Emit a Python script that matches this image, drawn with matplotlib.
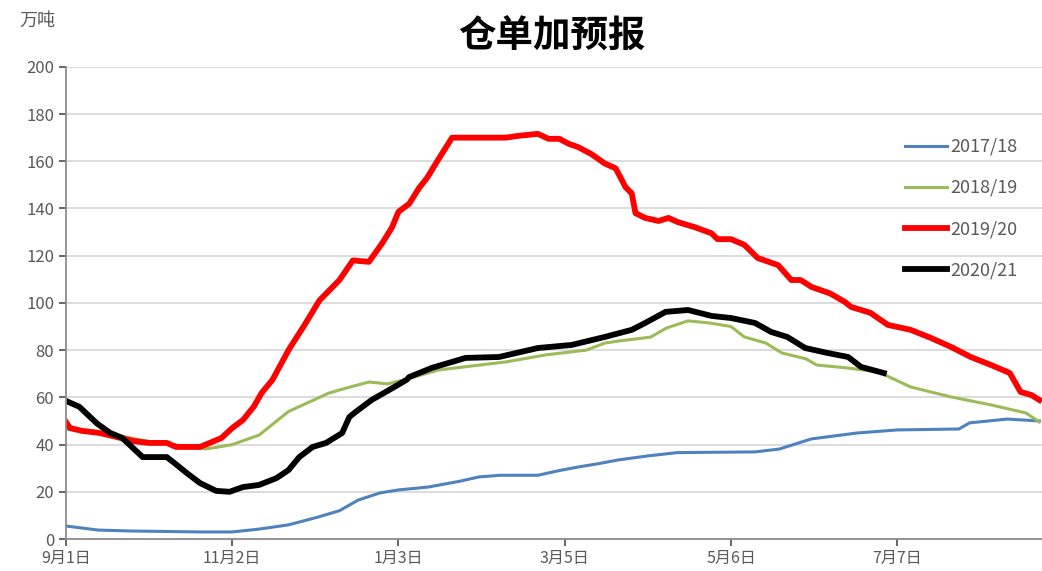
import matplotlib
matplotlib.use("Agg")
import matplotlib.pyplot as plt
import numpy as np

plt.rcParams['font.family'] = ['Noto Sans CJK SC', 'DejaVu Sans']

# days counted from 9月1日
tick_days = [0, 62, 124, 186, 248, 310]
tick_labels = ['9月1日', '11月2日', '1月3日', '3月5日', '5月6日', '7月7日']

d1718 = [0, 12, 24, 50, 62, 72, 83, 94, 102, 109, 117, 124, 135, 147, 154, 162, 176, 184,
         191, 199, 206, 217, 228, 257, 266, 278, 295, 310, 333, 337, 351, 363]
v1718 = [5.5, 3.8, 3.4, 3, 3, 4.2, 6, 9.3, 12, 16.5, 19.5, 20.8, 22, 24.5, 26.3, 27, 27, 29,
         30.5, 32, 33.5, 35.2, 36.6, 36.9, 38.1, 42.4, 44.9, 46.2, 46.6, 49.2, 50.8, 50]

d1819 = [0, 10, 20, 30, 40, 48, 52, 56, 62, 72, 83, 98, 106, 113, 120, 126, 139, 164, 179,
         194, 201, 207, 218, 224, 232, 240, 248, 253, 261, 267, 276, 280, 291, 303, 315, 330,
         345, 358, 363]
v1819 = [46.6, 45, 43.8, 41.5, 40, 38.8, 38.2, 38.8, 40, 44, 54, 61.8, 64.4, 66.5, 65.7, 67.4,
         71.6, 75, 78, 80, 83, 84, 85.5, 89.4, 92.4, 91.5, 90, 85.6, 83, 78.8, 76.3, 73.7,
         72.5, 70.8, 64.4, 60.2, 56.8, 53.4, 49.6]

d1920 = [0, 1.5, 6, 12.6, 19, 25, 31, 37.6, 41, 50, 53.6, 58, 62, 66, 70, 73, 77, 83, 89,
         94.5, 102, 107, 113, 118, 121.6, 124, 128, 131.7, 134.7, 139, 144, 164, 169, 176,
         180, 184, 187.5, 191, 196, 201, 205, 208.7, 211, 212.4, 216, 221, 224.7, 228, 234.7,
         240.7, 243, 248, 253, 258, 265.6, 270.5, 274, 278, 285, 290.5, 292.8, 300, 306.5,
         315, 322.5, 330, 337.4, 345, 352, 356, 360, 363]
v1920 = [49.6, 47, 45.8, 44.9, 43.2, 41.5, 40.7, 40.7, 39, 39, 40.7, 42.8, 47, 50.4, 56, 61.9,
         67.4, 80, 90.7, 101, 109.7, 118, 117.4, 125.4, 132, 138.6, 142, 148.7, 153, 161, 170,
         170, 170.8, 171.6, 169.5, 169.5, 167.4, 166, 163, 159, 157, 149, 146.4, 138, 136,
         134.7, 136, 134.3, 132, 129.5, 127, 127, 124.6, 119, 116, 109.7, 109.7, 106.8, 104,
         100.4, 98.3, 95.8, 90.7, 88.6, 85.2, 81.4, 77.1, 73.7, 70.3, 62.3, 61, 58.9]

d2021 = [0, 5, 11.5, 16.4, 21, 28.6, 37.6, 40, 45, 50, 56, 61, 66, 72, 78.5, 83, 87, 92, 97,
         103, 105.7, 108, 114, 120.5, 127, 128, 136.5, 149, 161.5, 176, 188.6, 201, 211, 216,
         223.6, 232, 240.7, 248, 257, 263, 269, 275.7, 284, 291.7, 296.5, 305]
v2021 = [58.5, 56, 49, 45, 42.8, 34.7, 34.7, 32.6, 28, 23.7, 20.4, 20, 22, 22.9, 25.8, 29.2,
         34.7, 39, 40.7, 44.9, 51.7, 53.8, 58.9, 63.1, 67.4, 68.6, 72.5, 76.7, 77.1, 80.9, 82.2,
         85.6, 88.6, 91.5, 96.2, 97, 94.5, 93.6, 91.5, 87.7, 85.6, 80.9, 78.8, 77.1, 72.9, 70.3]

fig = plt.figure(figsize=(10.42, 5.71), dpi=100)
ax = fig.add_axes([0.0633, 0.056, 0.9367, 0.827])

ax.plot(d1718, v1718, color='#4F81BD', lw=2.2, label='2017/18')
ax.plot(d1819, v1819, color='#9BBB59', lw=2.2, label='2018/19')
ax.plot(d1920, v1920, color='#FF0000', lw=4.2, label='2019/20')
ax.plot(d2021, v2021, color='#000000', lw=4.2, label='2020/21')

ax.set_xlim(0, 364)
ax.set_ylim(0, 200)
ax.set_yticks(np.arange(0, 201, 20))
ax.set_xticks(tick_days)
ax.set_xticklabels(tick_labels)
ax.grid(axis='y', color='#d9d9d9', lw=1.3)
ax.set_axisbelow(True)
for s in ['top', 'right']:
    ax.spines[s].set_visible(False)
for s in ['left', 'bottom']:
    ax.spines[s].set_color('#8c8c8c')
    ax.spines[s].set_linewidth(1.3)
ax.tick_params(axis='y', colors='#595959', labelsize=12, length=5, width=1.3, direction='out')
ax.tick_params(axis='x', colors='#595959', labelsize=11.5, length=5, width=1.3, direction='out',
               pad=3)
for t in ax.get_xticklabels() + ax.get_yticklabels():
    t.set_color('#595959')

fig.text(0.53, 0.937, '仓单加预报', ha='center', va='center', fontsize=27, fontweight='bold')
fig.text(0.019, 0.963, '万吨', ha='left', va='center', fontsize=13, color='#595959')

leg = ax.legend(loc='upper left', bbox_to_anchor=(0.853, 0.787), bbox_transform=fig.transFigure,
                frameon=False, fontsize=13, handlelength=2.3, handletextpad=0.2,
                labelspacing=1.28)
for t in leg.get_texts():
    t.set_color('#595959')

fig.savefig('out.png', dpi=100)
